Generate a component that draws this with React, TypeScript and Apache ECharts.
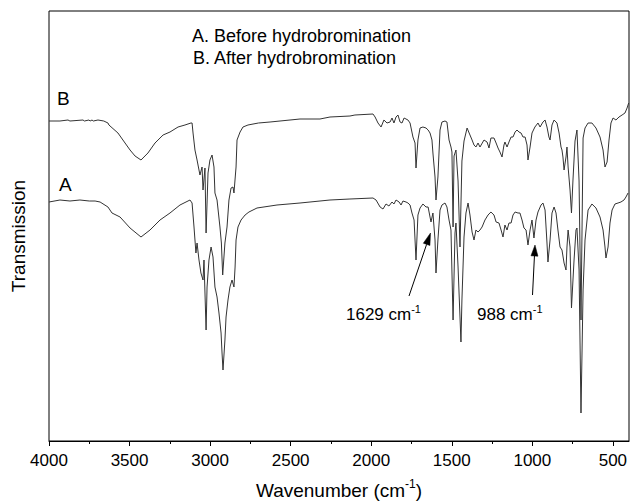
import React, { useEffect, useRef } from 'react';
import * as echarts from 'echarts';

const xTicks = [4000, 3500, 3000, 2500, 2000, 1500, 1000, 500];
const xMinorTicks = [3750, 3250, 2750, 2250, 1750, 1250, 750];

// [wavenumber (cm-1), transmission (a.u.)]
const traceB: [number, number][] = [
  [4000,320],[3932,320],[3882,321],[3870,320],[3789,321],[3780,320],[3752,321],[3745,320],[3733,321],[3725,320],
  [3696,321],[3660,320],[3634,318],[3628,316],[3572,308],[3528,298],[3497,291],[3466,285],[3429,281],[3386,288],
  [3342,298],[3292,306],[3249,309],[3199,314],[3156,316],[3119,318],[3112,318],[3106,308],[3094,291],[3081,281],
  [3075,276],[3069,271],[3063,266],[3050,274],[3044,251],[3032,273],[3025,208],[3013,268],[3001,281],[2988,286],
  [2976,274],[2970,248],[2957,241],[2939,214],[2930,198],[2922,166],[2908,198],[2895,214],[2883,241],[2870,253],
  [2858,254],[2852,248],[2839,274],[2833,301],[2814,309],[2796,314],[2765,316],[2700,318],[2628,319],[2442,322],
  [2318,322],[2256,324],[2132,325],[2101,326],[1989,327],[1976,324],[1958,318],[1939,314],[1921,321],[1902,318],
  [1883,319],[1871,323],[1859,318],[1846,324],[1834,326],[1821,319],[1809,318],[1796,323],[1772,321],[1759,318],
  [1741,304],[1728,298],[1722,273],[1710,301],[1697,313],[1679,314],[1660,313],[1647,311],[1635,308],[1623,301],
  [1617,288],[1604,264],[1598,241],[1586,264],[1573,311],[1561,319],[1542,320],[1530,319],[1517,301],[1505,294],
  [1499,289],[1492,214],[1486,285],[1474,291],[1461,260],[1449,194],[1437,280],[1424,300],[1405,313],[1387,306],
  [1374,301],[1362,296],[1350,294],[1337,298],[1325,294],[1300,301],[1281,299],[1269,293],[1257,303],[1238,303],
  [1225,298],[1213,293],[1201,289],[1188,284],[1176,296],[1170,299],[1157,294],[1145,299],[1132,304],[1120,304],
  [1107,309],[1095,311],[1083,309],[1070,308],[1058,304],[1045,304],[1033,296],[1027,281],[1014,294],[1002,308],
  [984,314],[965,318],[952,314],[934,319],[921,321],[909,314],[897,304],[890,301],[878,316],[865,321],
  [847,318],[834,308],[822,294],[816,291],[810,284],[803,271],[791,284],[785,294],[778,274],[766,251],
  [757,228],[748,260],[735,300],[723,311],[710,260],[698,121],[685,303],[673,313],[654,318],[630,318],
  [605,313],[580,304],[561,291],[549,274],[536,279],[524,301],[512,318],[499,323],[481,321],[462,324],
  [443,326],[425,328],[412,333],[402,338],
];

const traceA: [number, number][] = [
  [4000,239],[3932,241],[3870,240],[3808,241],[3750,240],[3714,240],[3683,239],[3634,234],[3609,228],[3559,224],
  [3497,213],[3429,204],[3373,211],[3311,221],[3249,228],[3187,236],[3125,241],[3112,238],[3100,214],[3088,188],
  [3081,198],[3069,181],[3057,168],[3044,161],[3038,181],[3025,111],[3019,154],[3007,181],[2994,194],[2982,184],
  [2970,154],[2957,144],[2945,128],[2932,108],[2926,88],[2920,71],[2908,101],[2901,124],[2889,141],[2877,154],
  [2864,161],[2852,154],[2845,174],[2839,201],[2827,214],[2808,221],[2783,226],[2759,229],[2709,233],[2585,236],
  [2442,238],[2318,240],[2256,241],[2132,242],[1989,243],[1970,241],[1945,234],[1927,232],[1908,237],[1890,235],
  [1871,239],[1859,237],[1846,241],[1827,239],[1815,236],[1803,240],[1784,239],[1772,238],[1759,236],[1747,228],
  [1734,221],[1722,181],[1710,226],[1697,233],[1679,237],[1660,234],[1647,234],[1629,219],[1617,228],[1604,201],
  [1598,168],[1586,201],[1573,231],[1561,236],[1542,238],[1530,234],[1517,221],[1505,211],[1492,121],[1480,208],
  [1474,218],[1461,174],[1449,124],[1443,99],[1437,141],[1424,204],[1412,228],[1399,238],[1387,226],[1374,209],
  [1362,201],[1350,211],[1337,209],[1325,211],[1312,214],[1294,221],[1275,226],[1257,229],[1238,226],[1225,219],
  [1207,218],[1194,211],[1182,204],[1170,216],[1157,211],[1145,218],[1132,218],[1120,226],[1107,229],[1089,228],
  [1077,228],[1064,221],[1052,213],[1039,211],[1027,196],[1014,211],[1002,221],[990,203],[977,221],[965,229],
  [946,236],[934,238],[921,231],[909,198],[903,179],[890,201],[878,228],[865,234],[853,228],[841,211],
  [828,194],[816,191],[803,178],[791,171],[785,194],[778,211],[766,194],[757,133],[741,181],[729,211],
  [723,213],[710,171],[698,28],[685,151],[673,201],[654,231],[630,237],[605,233],[580,224],[561,211],
  [549,194],[543,183],[530,194],[518,218],[505,231],[487,237],[468,238],[450,239],[431,241],[419,244],
  [406,248],
];

const FONT = '"Liberation Sans", Arial, Helvetica, sans-serif';

function arrow(x1: number, y1: number, tx: number, ty: number, headLen: number, halfW: number) {
  const dx = tx - x1, dy = ty - y1;
  const L = Math.sqrt(dx * dx + dy * dy);
  const ux = dx / L, uy = dy / L;
  const bx = tx - ux * headLen, by = ty - uy * headLen;
  const px = -uy, py = ux;
  return [
    { type: 'line', shape: { x1, y1, x2: bx, y2: by }, style: { stroke: '#000', lineWidth: 1 }, silent: true },
    {
      type: 'polygon',
      shape: { points: [[tx, ty], [bx + px * halfW, by + py * halfW], [bx - px * halfW, by - py * halfW]] },
      style: { fill: '#000', stroke: '#000', lineWidth: 0.5 },
      silent: true,
    },
  ];
}

function supText(x: number, y: number, main: string, sup: string, tail: string, size: number, supSize: number, align: string) {
  const lh = size + 3;
  return {
    type: 'text',
    x, y,
    silent: true,
    style: {
      text: `{a|${main}}{s|${sup}}` + (tail ? `{a|${tail}}` : ''),
      align, verticalAlign: 'middle',
      rich: {
        a: { fontSize: size, fontFamily: FONT, fill: '#000', lineHeight: lh, verticalAlign: 'bottom' },
        s: { fontSize: supSize, fontFamily: FONT, fill: '#000', lineHeight: supSize, verticalAlign: 'top' },
      },
    },
  };
}

export default function App() {
  const ref = useRef<HTMLDivElement>(null);
  useEffect(() => {
    const chart = echarts.init(ref.current as HTMLDivElement, null, { renderer: 'svg' });
    const plain = (x: number, y: number, text: string, size: number, align = 'left', rotation = 0) => ({
      type: 'text', x, y, rotation, silent: true,
      style: { text, fontSize: size, fontFamily: FONT, fill: '#000', align, verticalAlign: 'middle' },
    });
    chart.setOption({
      animation: false,
      backgroundColor: '#fff',
      grid: { left: 49, top: 11, right: 2, bottom: 60, show: true, borderColor: '#000', borderWidth: 1, backgroundColor: 'transparent' },
      xAxis: [
        {
          type: 'value', min: 400, max: 4000, inverse: true, position: 'bottom',
          axisLine: { show: true, onZero: false, lineStyle: { color: '#000', width: 1 } },
          axisTick: { show: true, inside: false, length: 5, customValues: xTicks, lineStyle: { color: '#000', width: 1 } },
          axisLabel: {
            show: true, customValues: xTicks, color: '#000', fontSize: 17, fontFamily: FONT, margin: 11,
            formatter: (v: number) => String(v),
          },
          splitLine: { show: false },
        },
        {
          type: 'value', min: 400, max: 4000, inverse: true, position: 'bottom',
          axisLine: { show: false, onZero: false },
          axisTick: { show: true, inside: false, length: 3, customValues: xMinorTicks, lineStyle: { color: '#000', width: 1 } },
          axisLabel: { show: false },
          splitLine: { show: false },
        },
      ],
      yAxis: {
        type: 'value', min: 0, max: 430,
        axisLine: { show: false }, axisTick: { show: false }, axisLabel: { show: false }, splitLine: { show: false },
      },
      series: [
        {
          name: 'B', type: 'line', data: traceB, xAxisIndex: 0, yAxisIndex: 0,
          symbol: 'none', showSymbol: false, silent: true,
          lineStyle: { color: '#333', width: 1 },
        },
        {
          name: 'A', type: 'line', data: traceA, xAxisIndex: 0, yAxisIndex: 0,
          symbol: 'none', showSymbol: false, silent: true,
          lineStyle: { color: '#333', width: 1 },
        },
      ],
      graphic: [
        plain(192, 36, 'A. Before hydrobromination', 18),
        plain(193, 58, 'B. After hydrobromination', 18),
        plain(57, 98, 'B', 19),
        plain(59, 184, 'A', 19),
        plain(18, 236, 'Transmission', 19, 'center', Math.PI / 2),
        supText(339, 489, 'Wavenumber (cm', '-1', ')', 19, 12, 'center'),
        supText(346, 313, '1629 cm', '-1', '', 17, 11, 'left'),
        supText(477, 313, '988 cm', '-1', '', 17, 11, 'left'),
        ...arrow(409, 296, 430.5, 233, 12, 3.5),
        ...arrow(532.5, 295, 535, 245, 11, 3.5),
      ],
    });
    return () => chart.dispose();
  }, []);
  return <div ref={ref} style={{ position: 'fixed', left: 0, top: 0, width: 631, height: 501 }} />;
}
